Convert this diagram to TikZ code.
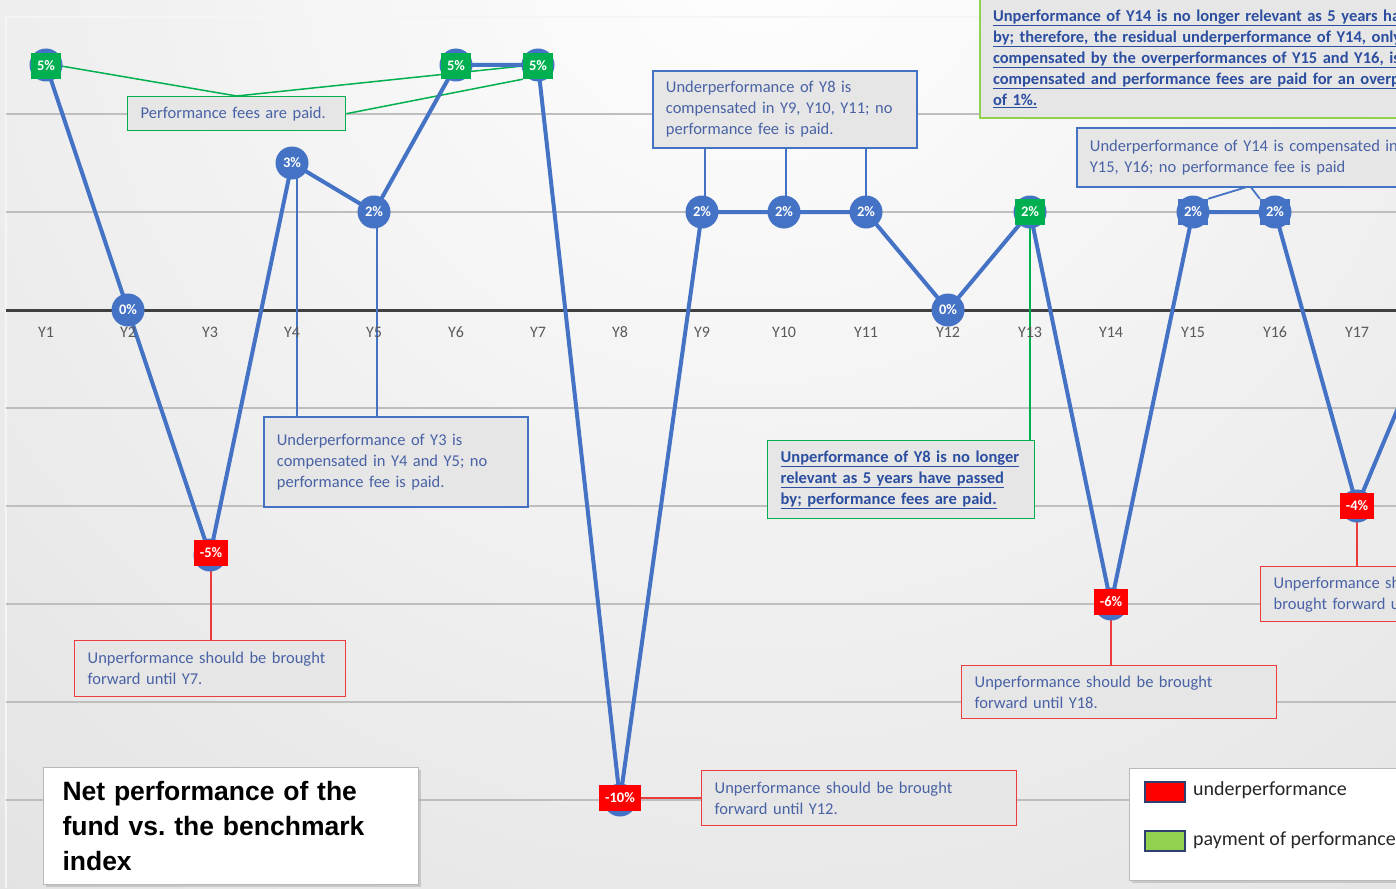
\documentclass[tikz,border=0pt]{standalone}
\usepackage{fontspec}
\setmainfont{Carlito}
\newfontfamily\titlefont{Liberation Sans}
\usetikzlibrary{calc,shadows}
\definecolor{dblue}{RGB}{68,114,196}
\definecolor{ggreen}{RGB}{0,176,80}
\definecolor{lgreen}{RGB}{146,208,80}
\definecolor{rred}{RGB}{255,0,0}
\definecolor{rline}{RGB}{236,60,60}
\definecolor{txtblue}{RGB}{72,98,165}
\definecolor{ultxt}{RGB}{44,78,160}
\definecolor{boxfill}{RGB}{230,230,230}
\definecolor{bggray}{RGB}{212,212,212}
\definecolor{gridgray}{RGB}{190,190,190}
\definecolor{axisgray}{RGB}{64,64,64}
\definecolor{yeargray}{RGB}{89,89,89}
\definecolor{swborder}{RGB}{47,63,111}
\pgfdeclarelayer{bg}
\pgfdeclarelayer{back}
\pgfsetlayers{bg,back,main}
\frenchspacing
\begin{document}
\begin{tikzpicture}[x=1pt,y=-1pt,
  txt/.style={font=\fontsize{16.5}{21}\selectfont, text=txtblue, align=left},
  boldtxt/.style={font=\fontsize{16.5}{21}\selectfont\bfseries, text=ultxt, align=left},
  callbox/.style={fill=boxfill, anchor=north west, inner xsep=13pt, inner ysep=0pt},
  bluebox/.style={callbox, txt, draw=dblue, line width=1.8pt},
  greenbox/.style={callbox, txt, draw=ggreen, line width=1.4pt},
  lgreenbox/.style={callbox, boldtxt, draw=lgreen, line width=2pt},
  redbox/.style={callbox, txt, draw=rline, line width=1.4pt},
  circ/.style={circle, fill=dblue, minimum size=33pt, inner sep=0pt, font=\fontsize{14.5}{15}\selectfont\bfseries, text=white},
  sq/.style={rectangle, inner xsep=6pt, inner ysep=0pt, minimum height=26pt, font=\fontsize{14.5}{15}\selectfont\bfseries, text=white},
  gsq/.style={sq, fill=ggreen},
  rsq/.style={sq, fill=rred},
  bsq/.style={sq, fill=dblue},
  dline/.style={draw=dblue, line width=4pt, line join=round},
  bconn/.style={draw=dblue, line width=1.8pt},
  gconn/.style={draw=ggreen, line width=1.5pt},
  rconn/.style={draw=rline, line width=1.5pt},
  gline/.style={draw=gridgray, line width=1.5pt},
  yl/.style={font=\fontsize{16}{16}\selectfont, text=yeargray, inner sep=0pt},
  whitebox/.style={draw=gray!55, fill=white, line width=1pt, anchor=north west, drop shadow={shadow xshift=2pt, shadow yshift=-2pt, opacity=0.3}},
  titlebox/.style={whitebox, inner xsep=19pt, align=left, font=\titlefont\bfseries\fontsize{26.5}{35}\selectfont, text=black},
  swatch/.style={draw=swborder, line width=1.2pt, minimum width=40pt, minimum height=20pt, inner sep=0pt},
  legtxt/.style={anchor=west, inner sep=0pt, font=\fontsize{20}{20}\selectfont, text=black!85}
]
\useasboundingbox (0,0) rectangle (1396,888);

% background
\begin{pgfonlayer}{bg}
\begin{scope}
\clip (0,0) rectangle (1396,888);
\fill[bggray] (0,0) rectangle (1396,888);
\shade[inner color=white, outer color=bggray] (760,-80) circle (1900pt);
\draw[white!92!gray, line width=2pt] (6,888) -- (6,17) -- (1396,17);
\foreach \yy in {114,212,408,506,604,702,800} \draw[gline] (6,\yy) -- (1396,\yy);
\draw[axisgray, line width=3pt] (6,310) -- (1396,310);
\end{scope}
\end{pgfonlayer}

\begin{scope}
\clip (0,0) rectangle (1396,888);
% year labels
\node[yl] (t1) at (46,332) {Y1};
\node[yl] (t2) at (128,332) {Y2};
\node[yl] (t3) at (210,332) {Y3};
\node[yl] (t4) at (292,332) {Y4};
\node[yl] (t5) at (374,332) {Y5};
\node[yl] (t6) at (456,332) {Y6};
\node[yl] (t7) at (538,332) {Y7};
\node[yl] (t8) at (620,332) {Y8};
\node[yl] (t9) at (702,332) {Y9};
\node[yl] (t10) at (784,332) {Y10};
\node[yl] (t11) at (866,332) {Y11};
\node[yl] (t12) at (948,332) {Y12};
\node[yl] (t13) at (1030,332) {Y13};
\node[yl] (t14) at (1111,332) {Y14};
\node[yl] (t15) at (1193,332) {Y15};
\node[yl] (t16) at (1275,332) {Y16};
\node[yl] (t17) at (1357,332) {Y17};

% data coordinates
\coordinate (c1) at (46,65);
\coordinate (c2) at (128,310);
\coordinate (c3) at (210,555);
\coordinate (c4) at (292,163);
\coordinate (c5) at (374,212);
\coordinate (c6) at (456,65);
\coordinate (c7) at (538,65);
\coordinate (c8) at (620,800);
\coordinate (c9) at (702,212);
\coordinate (c10) at (784,212);
\coordinate (c11) at (866,212);
\coordinate (c12) at (948,310);
\coordinate (c13) at (1030,212);
\coordinate (c14) at (1111,604);
\coordinate (c15) at (1193,212);
\coordinate (c16) at (1275,212);
\coordinate (c17) at (1357,506);
\coordinate (c18) at (1439,310);
\coordinate (ej) at (1250,186);

% callout boxes
\node[greenbox, minimum width=218pt, minimum height=34pt, text width=192pt] (A) at (127,96) {Performance fees are paid.};
\node[bluebox, minimum width=264pt, minimum height=90pt, text width=238pt] (B) at (263,416)
  {\mbox{Underperformance of Y3 is}\\\mbox{compensated in Y4 and Y5; no}\\\mbox{performance fee is paid.}};
\node[bluebox, minimum width=264pt, minimum height=77pt, text width=238pt] (C) at (652,70)
  {\mbox{Underperformance of Y8 is}\\\mbox{compensated in Y9, Y10, Y11; no}\\\mbox{performance fee is paid.}};
\node[lgreenbox, minimum width=620pt, minimum height=119pt, text width=594pt] (D) at (979,-2)
  {\underline{Unperformance of Y14 is no longer relevant as 5 years have passed}\\
   \underline{by; therefore, the residual underperformance of Y14, only partially}\\
   \underline{compensated by the overperformances of Y15 and Y16, is}\\
   \underline{compensated and performance fees are paid for an overperformance}\\
   \underline{of 1\%.}};
\node[bluebox, minimum width=500pt, minimum height=59pt, text width=474pt] (E) at (1076,127)
  {\mbox{Underperformance of Y14 is compensated in}\\\mbox{Y15, Y16; no performance fee is paid}};
\node[greenbox, boldtxt, minimum width=267pt, minimum height=78pt, text width=241pt] (F) at (767,440)
  {\underline{Unperformance of Y8 is no longer}\\\underline{relevant as 5 years have passed}\\\underline{by; performance fees are paid.}};
\node[redbox, minimum width=271pt, minimum height=56pt, text width=245pt] (G) at (74,640)
  {\mbox{Unperformance should be brought}\\\mbox{forward until Y7.}};
\node[redbox, minimum width=315pt, minimum height=55pt, text width=289pt] (H) at (701,770)
  {\mbox{Unperformance should be brought}\\\mbox{forward until Y12.}};
\node[redbox, minimum width=315pt, minimum height=53pt, text width=289pt] (I) at (961,665)
  {\mbox{Unperformance should be brought}\\\mbox{forward until Y18.}};
\node[redbox, minimum width=280pt, minimum height=55pt, text width=254pt] (J) at (1260,566)
  {\mbox{Unperformance should be}\\\mbox{brought forward until Y21.}};

% title and legend
\node[titlebox, minimum width=375pt, minimum height=117pt, text width=337pt] (T) at (43,767)
  {Net performance of the\\fund vs. the benchmark\\index};
\node[whitebox, minimum width=400pt, minimum height=112pt] (L) at (1129,768) {};
\node[swatch, fill=rred] (sw1) at (1165,792) {};
\node[swatch, fill=lgreen] (sw2) at (1165,841) {};
\node[legtxt] (lt1) at (1193,790) {underperformance};
\node[legtxt] (lt2) at (1193,840) {payment of performance fees};

% markers
\node[circ] (p1) at (c1) {};
\node[circ] (p2) at (c2) {0\%};
\node[circ] (p3) at (c3) {};
\node[circ] (p4) at (c4) {3\%};
\node[circ] (p5) at (c5) {2\%};
\node[circ] (p6) at (c6) {};
\node[circ] (p7) at (c7) {};
\node[circ] (p8) at (c8) {};
\node[circ] (p9) at (c9) {2\%};
\node[circ] (p10) at (c10) {2\%};
\node[circ] (p11) at (c11) {2\%};
\node[circ] (p12) at (c12) {0\%};
\node[circ] (p13) at (c13) {};
\node[circ] (p14) at (c14) {};
\node[circ] (p15) at (c15) {};
\node[circ] (p16) at (c16) {};
\node[circ] (p17) at (c17) {};
\node[gsq] (s1) at ($(c1)+(0,1)$) {5\%};
\node[rsq] (s3) at ($(c3)+(1,-2)$) {-5\%};
\node[gsq] (s6) at ($(c6)+(0,1)$) {5\%};
\node[gsq] (s7) at ($(c7)+(0,1)$) {5\%};
\node[rsq] (s8) at ($(c8)+(0,-2)$) {-10\%};
\node[gsq] (s13) at (c13) {2\%};
\node[rsq] (s14) at ($(c14)+(0,-2)$) {-6\%};
\node[bsq] (s15) at (c15) {2\%};
\node[bsq] (s16) at (c16) {2\%};
\node[rsq] (s17) at (c17) {-4\%};
\end{scope}

% data line and connectors
\begin{pgfonlayer}{back}
\begin{scope}
\clip (0,0) rectangle (1396,888);
\draw[gconn] (A.north) -- (s1.east);
\draw[gconn] (A.north) -- (s7.west);
\draw[gconn] (A.east) -- (s7.south west);
\draw[bconn] ($(c4)+(5,0)$) -- ($(c4 |- B.north)+(5,0)$);
\draw[bconn] ($(c5)+(3,0)$) -- ($(c5 |- B.north)+(3,0)$);
\draw[bconn] ($(c9)+(3,0)$) -- ($(c9 |- C.south)+(3,0)$);
\draw[bconn] ($(c10)+(2,0)$) -- ($(c10 |- C.south)+(2,0)$);
\draw[bconn] (c11) -- (c11 |- C.south);
\draw[bconn] (ej) -- (s15.north east);
\draw[bconn] (ej) -- (s16.north west);
\draw[gconn] (s13) -- (s13 |- F.north);
\draw[rconn] (s3) -- (s3 |- G.north);
\draw[rconn] (s8.east) -- (s8.east -| H.west);
\draw[rconn] (s14) -- (s14 |- I.north);
\draw[rconn] (s17) -- (s17 |- J.north);
\draw[dline] (c1) -- (c2) -- (c3) -- (c4) -- (c5) -- (c6) -- (c7) -- (c8) -- (c9) -- (c10) -- (c11) -- (c12) -- (c13) -- (c14) -- (c15) -- (c16) -- (c17) -- (c18);
\end{scope}
\end{pgfonlayer}
\end{tikzpicture}
\end{document}
